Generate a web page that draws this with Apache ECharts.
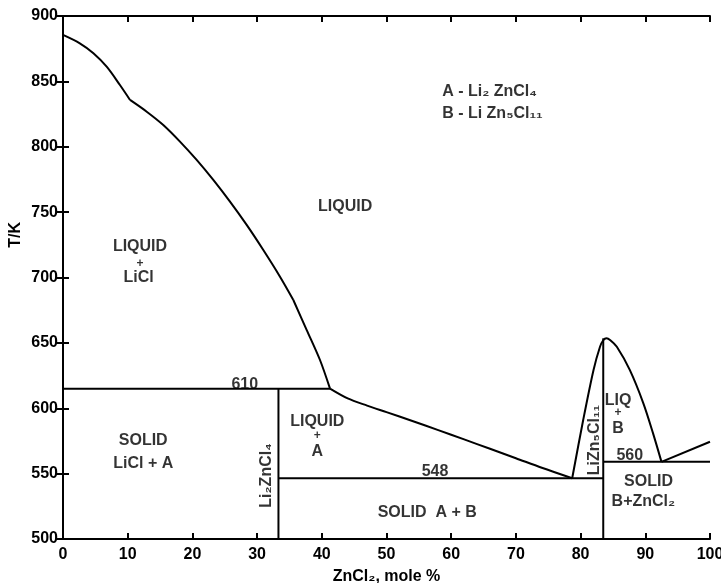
<!DOCTYPE html>
<html>
<head>
<meta charset="utf-8">
<script src="https://cdn.jsdelivr.net/npm/echarts@6/dist/echarts.min.js"></script>
<style>html,body{margin:0;padding:0;background:#fff}#c{width:721px;height:583px}</style>
</head>
<body>
<div id="c"></div>
<script>
// Liquidus LiCl (branches meeting at small kinks)
const liquidusLiCl1 = [[0,885.5],[2.6,879.1],[4.7,871.5],[6.75,861.2],[8.8,847.2],[10.36,835.8]];
const liquidusLiCl2 = [[10.36,835.8],[12.94,826.8],[15.5,816.6],[18.08,803.9],[20.66,789.9],[23.23,774.6],[25.81,758.0],[28.39,740.2],[30.96,721.0],[33.54,700.6],[35.6,682.8]];
const liquidusLiCl3 = [[35.6,682.8],[37.67,659.8],[39.72,636.9],[41.27,615]];
// Liquidus Li2ZnCl4
const liquidusA = [[41.27,615],[44,607.5],[47,602],[50,597],[54,590.3],[58,583.3],[62,576.2],[66,569],[70,561.8],[74,554.5],[78.7,546.5]];
// Liquidus LiZn5Cl11
const liquidusB = [[78.7,546.5],[80.4,591],[82.0,629.3],[83.0,647],[83.5,652],[84.0,653.5],[84.6,652],[85.6,647],[87.6,629.3],[89.7,603.8],[91.2,580.8],[92.5,559]];
// Liquidus ZnCl2
const liquidusZn = [[92.5,559],[100,574.4]];
// Invariant lines
const line610 = [[0,615],[41.27,615]];
const line548 = [[33.3,546.5],[83.5,546.5]];
const line560 = [[83.5,559],[100,559]];
const lineA = [[33.3,500],[33.3,615]];
const lineB = [[83.5,500],[83.5,653.5]];
// Region labels: [x, T, text, rotate]
const labelsCenter = [
  [43.6,755.5,'LIQUID',0],
  [11.9,724.9,'LIQUID',0],
  [11.9,712.1,'+',0],
  [11.7,701.1,'LiCl',0],
  [12.4,576.5,'SOLID',0],
  [12.4,558.9,'LiCl + A',0],
  [28.1,620,'610',0],
  [31.2,548.6,'Li₂ZnCl₄',90],
  [39.3,591,'LIQUID',0],
  [39.3,580.3,'+',0],
  [39.3,568.6,'A',0],
  [57.5,552.8,'548',0],
  [56.3,521.4,'SOLID  A + B',0],
  [81.9,575.7,'LiZn₅Cl₁₁',90],
  [85.8,607.6,'LIQ',0],
  [85.8,598.1,'+',0],
  [85.8,585.9,'B',0],
  [87.6,565.6,'560',0],
  [90.5,545.1,'SOLID',0],
  [89.7,529.8,'B+ZnCl₂',0]
];
const labelsLeft = [
  [58.6,843.4,'A - Li₂ ZnCl₄'],
  [58.6,826.6,'B - Li Zn₅Cl₁₁']
];
const xTicks = [0,10,20,30,40,50,60,70,80,90,100];
const yTicks = [500,550,600,650,700,750,800,850,900];

const FONT = '"Liberation Sans","DejaVu Sans",sans-serif';
const WEIGHT = 'bold';
const chart = echarts.init(document.getElementById('c'), null, {renderer:'canvas'});

function lineSeries(d, smooth){
  return {type:'line', data:d, symbol:'none', smooth:smooth||false, silent:true,
    lineStyle:{color:'#000', width:2}, animation:false, z:3};
}
const axisCommon = {
  axisLine:{show:true, lineStyle:{color:'#000', width:2}},
  axisTick:{show:true, inside:true, length:6, lineStyle:{color:'#000', width:2}},
  splitLine:{show:false}
};
chart.setOption({
  animation:false,
  backgroundColor:'#fff',
  grid:{left:63, right:11, top:16, bottom:44, containLabel:false, outerBoundsMode:'none'},
  xAxis:[
    Object.assign({type:'value', min:0, max:100, interval:10, position:'bottom',
      axisLabel:{color:'#000', fontSize:16, fontWeight:WEIGHT, fontFamily:FONT, margin:8, formatter:v=>xTicks.includes(v)?String(v):''},
      name:'ZnCl₂, mole %', nameLocation:'middle', nameGap:30,
      nameTextStyle:{color:'#000', fontSize:16, fontWeight:WEIGHT, fontFamily:FONT}}, axisCommon),
    Object.assign({type:'value', min:0, max:100, interval:10, position:'top',
      axisLabel:{show:false}}, axisCommon)
  ],
  yAxis:[
    Object.assign({type:'value', min:500, max:900, interval:50, position:'left',
      axisLabel:{color:'#000', fontSize:16, fontWeight:WEIGHT, fontFamily:FONT, margin:5, formatter:v=>yTicks.includes(v)?String(v):''}}, axisCommon),
    Object.assign({type:'value', min:500, max:900, interval:50, position:'right',
      axisLabel:{show:false}}, axisCommon)
  ],
  graphic:[{type:'text', left:8, top:222, rotation:Math.PI/2,
    style:{text:'T/K', fill:'#000', font:'bold 16px '+FONT}}],
  series:[
    lineSeries(liquidusLiCl1,0.3), lineSeries(liquidusLiCl2,0.3), lineSeries(liquidusLiCl3,0.3),
    lineSeries(liquidusA,0.3), lineSeries(liquidusB,0.3), lineSeries(liquidusZn),
    lineSeries(line610), lineSeries(line548), lineSeries(line560), lineSeries(lineA), lineSeries(lineB),
    {type:'scatter', symbolSize:0, silent:true, z:5,
      data:labelsCenter.map(l=>({value:[l[0],l[1]], label:{show:true, formatter:l[2], rotate:l[3],
        fontSize: l[2]==='+'?12:16}})),
      label:{show:true, position:'inside', color:'#000', fontFamily:FONT, fontWeight:WEIGHT, fontSize:16, align:'center', verticalAlign:'middle', offset:[0,2]}},
    {type:'scatter', symbolSize:0, silent:true, z:5,
      data:labelsLeft.map(l=>({value:[l[0],l[1]], label:{show:true, formatter:l[2]}})),
      label:{show:true, position:'inside', color:'#000', fontFamily:FONT, fontWeight:WEIGHT, fontSize:16, align:'left', verticalAlign:'middle', offset:[0,2]}}
  ]
});
</script>
</body>
</html>
